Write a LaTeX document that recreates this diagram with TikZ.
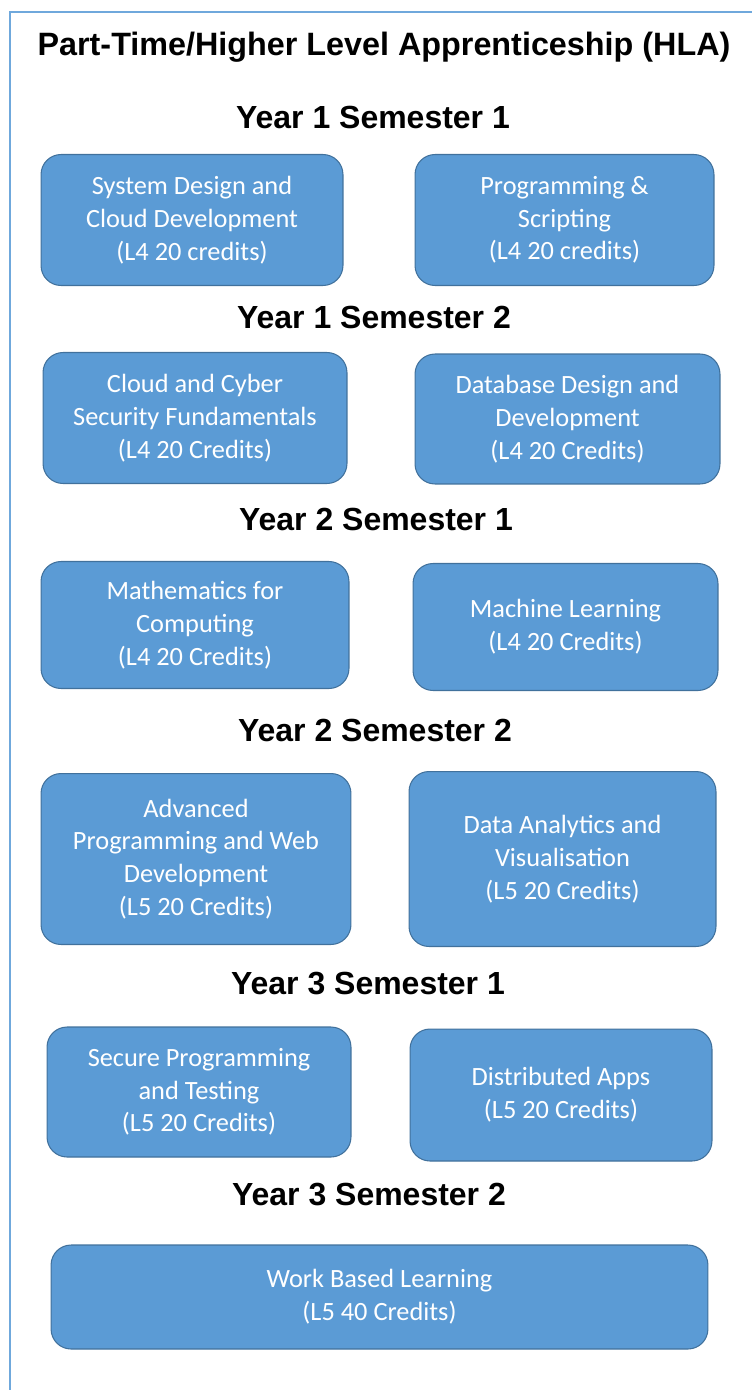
\documentclass[tikz,border=0pt]{standalone}
\usepackage{fontspec}
\setmainfont{Liberation Sans}
\newfontfamily\modfont{Carlito}
\definecolor{modfill}{HTML}{5B9BD5}
\definecolor{modedge}{HTML}{41719C}
\definecolor{framecol}{HTML}{6FA8DC}

\begin{document}
\begin{tikzpicture}[x=0.02cm, y=-0.02cm,
    every node/.style={inner sep=0pt, align=center},
    head/.style={font=\fontsize{18.2}{22}\bfseries},
    module/.style={draw=modedge, line width=0.6pt, fill=modfill, rounded corners=0.4cm,
        text=white, font=\modfont\fontsize{15}{18.6}\selectfont,
        minimum width=6.06cm, minimum height=2.62cm}]
    \useasboundingbox (0,0) rectangle (752,1390);
    \draw[framecol, line width=1.5pt] (10,1390) -- (10,12) -- (752,12);

    \node[head, font=\fontsize{18.4}{22}\bfseries] (title) at (384,47) {Part-Time/Higher Level Apprenticeship (HLA)};

    \node[head] (y1s1) at (373,117) {Year 1 Semester 1};
    \node[module, minimum width=6.04cm] (sdcd) at (192,220) {System Design and\\Cloud Development\\(L4 20 credits)};
    \node[module, minimum width=5.98cm] (prog) at (564.5,220) {Programming \&\\Scripting\\(L4 20 credits)};

    \node[head] (y1s2) at (374,317) {Year 1 Semester 2};
    \node[module, minimum width=6.08cm] (ccsf) at (195,418) {Cloud and Cyber\\Security Fundamentals\\(L4 20 Credits)};
    \node[module, minimum width=6.10cm, minimum height=2.60cm] (dbdd) at (567.5,419) {Database Design and\\Development\\(L4 20 Credits)};

    \node[head] (y2s1) at (376,519) {Year 2 Semester 1};
    \node[module, minimum width=6.16cm, minimum height=2.54cm] (math) at (195,625) {Mathematics for\\Computing\\(L4 20 Credits)};
    \node[module, minimum width=6.10cm, minimum height=2.54cm] (ml) at (565.5,627) {Machine Learning\\(L4 20 Credits)};

    \node[head] (y2s2) at (375,730) {Year 2 Semester 2};
    \node[module, minimum width=6.20cm, minimum height=3.42cm] (apwd) at (196,859) {Advanced\\Programming and Web\\Development\\(L5 20 Credits)};
    \node[module, minimum width=6.14cm, minimum height=3.50cm] (dav) at (562.5,859) {Data Analytics and\\Visualisation\\(L5 20 Credits)};

    \node[head] (y3s1) at (368,984) {Year 3 Semester 1};
    \node[module, minimum width=6.08cm, minimum height=2.60cm] (spt) at (199,1092) {Secure Programming\\and Testing\\(L5 20 Credits)};
    \node[module, minimum width=6.04cm, minimum height=2.64cm] (dapps) at (561,1095) {Distributed Apps\\(L5 20 Credits)};

    \node[head] (y3s2) at (369,1195) {Year 3 Semester 2};
    \node[module, minimum width=13.14cm, minimum height=2.08cm] (wbl) at (379.5,1297) {Work Based Learning\\(L5 40 Credits)};
\end{tikzpicture}
\end{document}
